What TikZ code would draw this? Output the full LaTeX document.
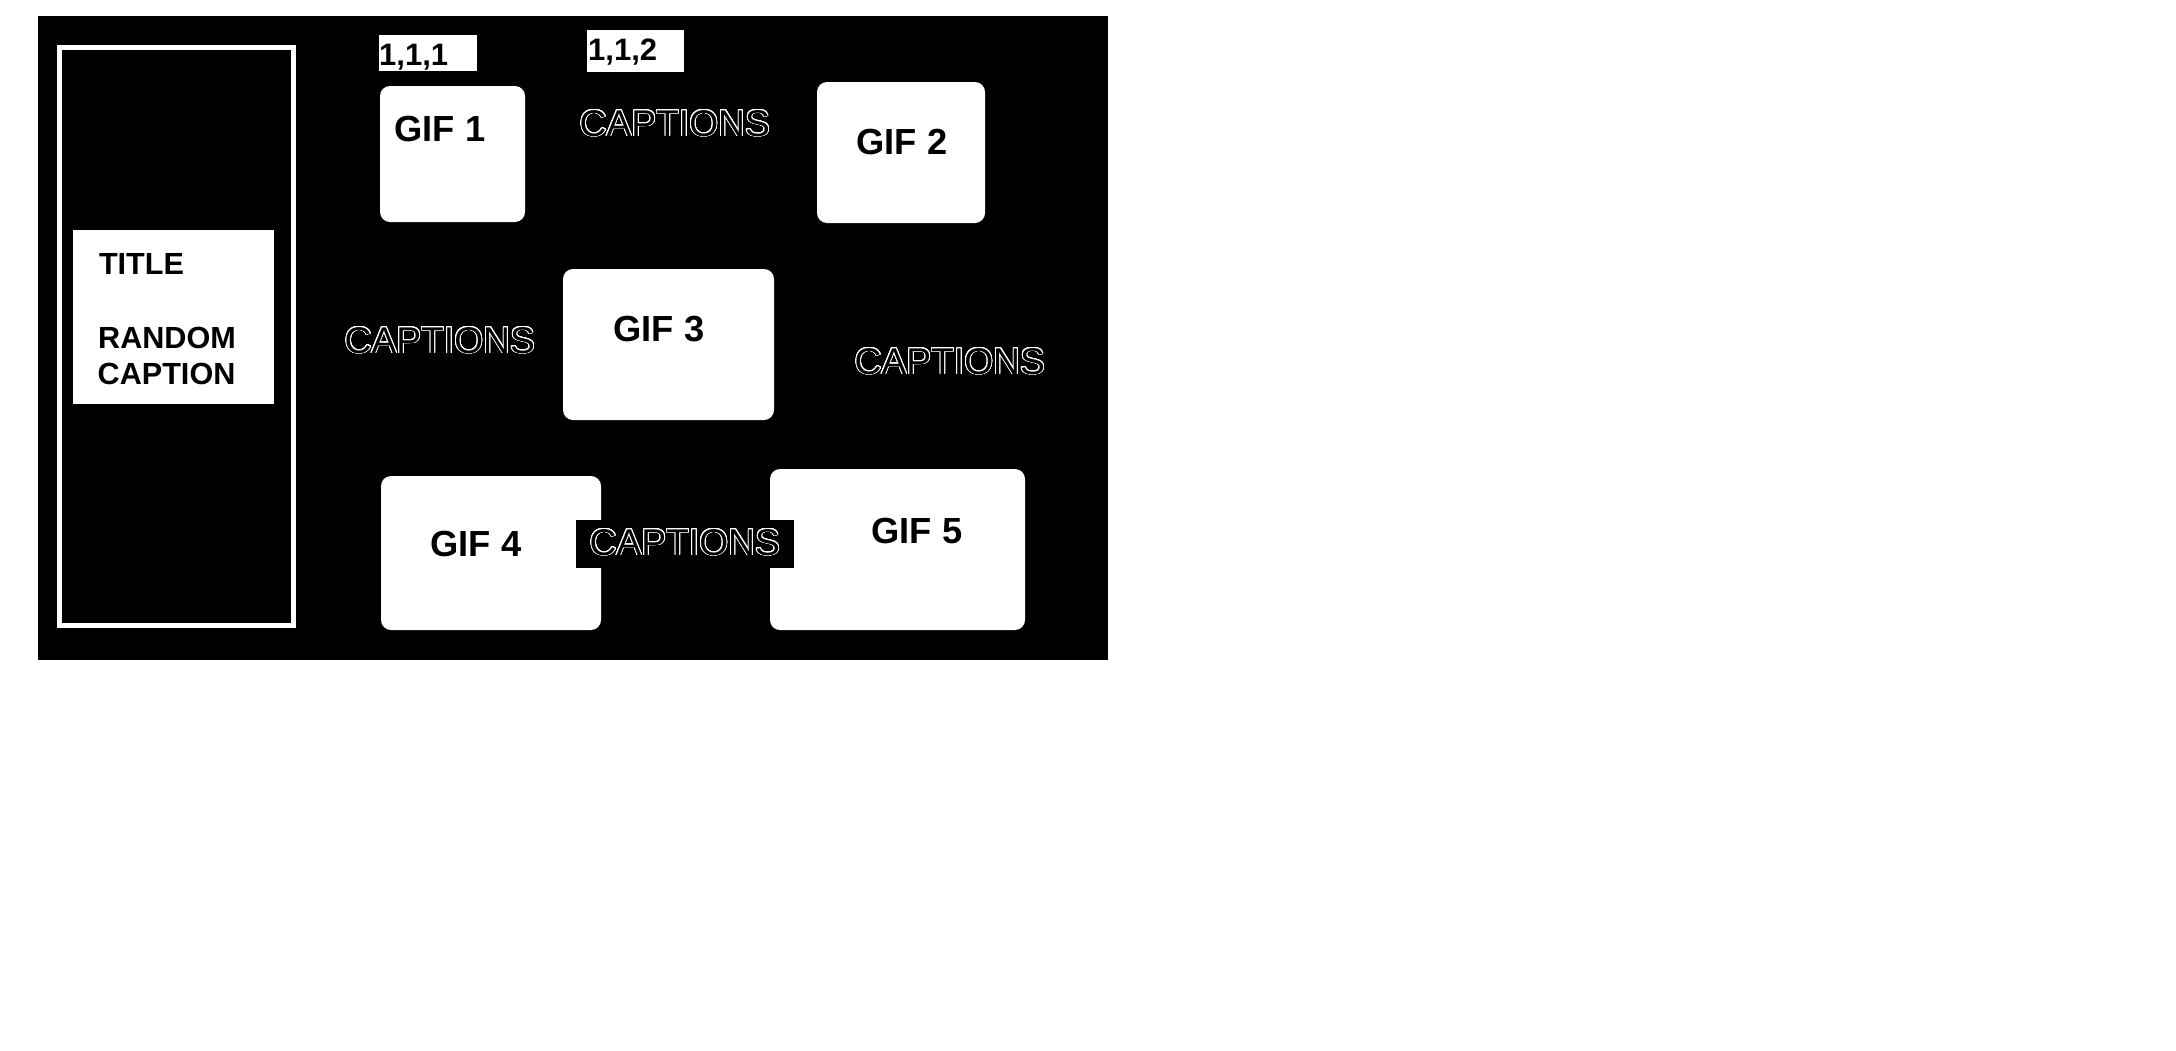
\documentclass[tikz,border=0pt]{standalone}
\usepackage{fontspec}
\setmainfont{Liberation Sans}
\usepackage{contour}
\contourlength{0.9bp}
\contournumber{32}
\begin{document}
\begin{tikzpicture}[x=1bp,y=-1bp,
  box/.style={draw=none,fill=white,inner sep=0pt},
  gifbox/.style={box,rounded corners=10bp},
  giftxt/.style={inner sep=0pt,anchor=base west,text=black,font=\fontsize{36.3bp}{40bp}\selectfont\bfseries},
  captxt/.style={inner sep=0pt,anchor=base west,text=black,font=\fontsize{37.2bp}{40bp}\selectfont},
  titletxt/.style={inner sep=0pt,anchor=base west,text=black,font=\fontsize{30.6bp}{36bp}\selectfont\bfseries},
  labtxt/.style={inner sep=0pt,anchor=base west,text=black,font=\fontsize{31bp}{36bp}\selectfont\bfseries}]
\useasboundingbox (0,0) rectangle (2176,1050);
\fill[white] (0,0) rectangle (2176,1050);
% black panel
\fill[black] (38,16) rectangle (1108,660);
\coordinate (bgc) at (573,338);
% left frame
\draw[white,line width=5.3bp] (59.35,47.35) rectangle (293.35,625.35);
% title box
\node[box,minimum width=201bp,minimum height=174bp] (titlebox) at (173.5,317) {};
\node[titletxt] (ttitle) at (98.8,274) {TITLE};
\node[titletxt] (trandom) at (98,348) {RANDOM};
\node[titletxt] (tcaption) at (97.5,384) {CAPTION};
% labels
\node[box,minimum width=98bp,minimum height=36bp] (lab1) at (428,53) {};
\node[labtxt] (lab1t) at (379,65) {1,1,1};
\node[box,minimum width=97bp,minimum height=42bp] (lab2) at (635.5,51) {};
\node[labtxt] (lab2t) at (588,60) {1,1,2};
% gif boxes
\node[gifbox,minimum width=145bp,minimum height=136bp] (gif1) at (452.5,154) {};
\node[gifbox,minimum width=168bp,minimum height=141bp] (gif2) at (901,152.5) {};
\node[gifbox,minimum width=211bp,minimum height=151bp] (gif3) at (668.5,344.5) {};
\node[gifbox,minimum width=220bp,minimum height=154bp] (gif4) at (491,553) {};
\node[gifbox,minimum width=255bp,minimum height=161bp] (gif5) at (897.5,549.5) {};
% caption background over gif 4/5
\node[fill=black,inner sep=0pt,minimum width=218bp,minimum height=48bp] (cap4bg) at (685,544) {};
% gif texts
\node[giftxt] (gif1t) at (394.4,141) {GIF 1};
\node[giftxt] (gif2t) at (856.4,154) {GIF 2};
\node[giftxt] (gif3t) at (613.4,341) {GIF 3};
\node[giftxt] (gif4t) at (430.4,556) {GIF 4};
\node[giftxt] (gif5t) at (871.4,543) {GIF 5};
% captions
\node[captxt] (cap1) at (579.5,136) {\contour{white}{CAPTIONS}};
\node[captxt] (cap2) at (344.5,353) {\contour{white}{CAPTIONS}};
\node[captxt] (cap3) at (854.5,374) {\contour{white}{CAPTIONS}};
\node[captxt] (cap4) at (589.5,555) {\contour{white}{CAPTIONS}};
\end{tikzpicture}
\end{document}
